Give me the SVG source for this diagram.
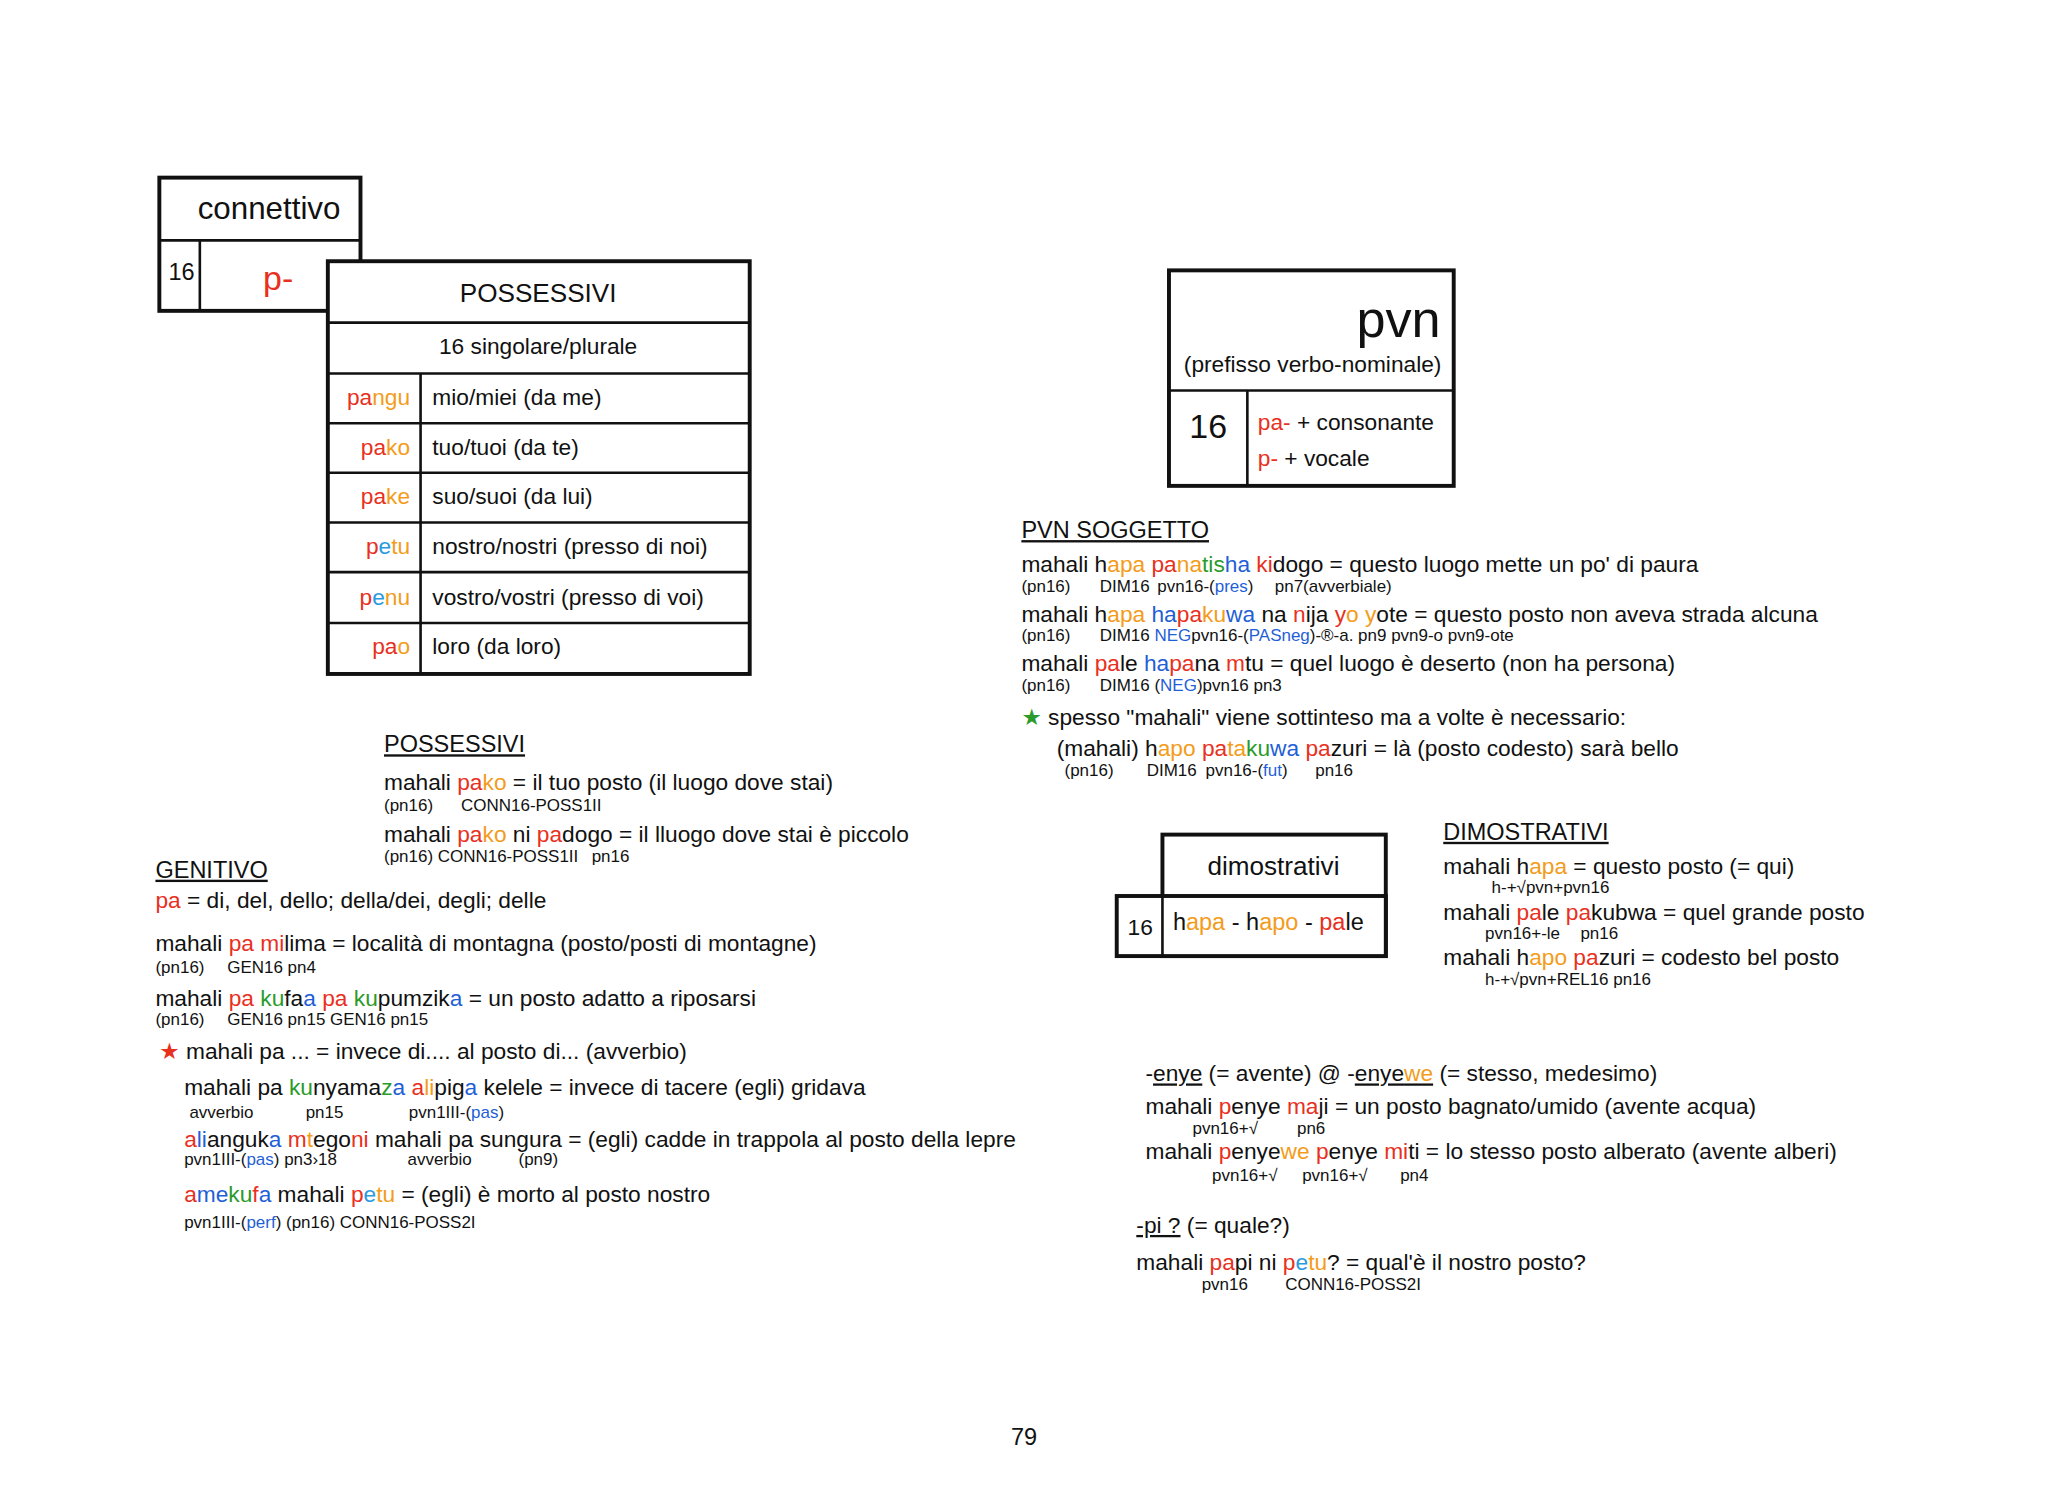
<svg xmlns="http://www.w3.org/2000/svg" width="2048" height="1496" viewBox="0 0 2048 1496">
<style>
text{font-family:"Liberation Sans","DejaVu Sans",sans-serif;fill:#111}
.m{font-size:17.4px}
.s{font-size:13px}
.h{font-size:18px;text-decoration:underline}
.r{fill:#e8301e}.o{fill:#f39c1b}.g{fill:#2a9a2a}.b{fill:#1f5fd6}.c{fill:#2a9adf}
.bx{fill:#fff;stroke:#111;stroke-width:3}
.ln{stroke:#111;stroke-width:2;fill:none}
</style>
<rect width="2048" height="1496" fill="#fff"/>
<g transform="scale(1.30612)">
<g id="connettivo">
<rect class="bx" x="122" y="136" width="154" height="102"/>
<line class="ln" x1="122" y1="184" x2="276" y2="184"/>
<line class="ln" x1="153" y1="184" x2="153" y2="238"/>
<text x="206" y="168" font-size="24" text-anchor="middle">connettivo</text>
<text x="139" y="214" font-size="18" text-anchor="middle">16</text>
<text x="213" y="222" font-size="26" text-anchor="middle" class="r">p-</text>
</g>
<g id="possessivi-table">
<rect class="bx" x="251" y="200" width="323" height="316"/>
<g class="ln">
<line x1="251" y1="247" x2="574" y2="247"/><line x1="251" y1="286" x2="574" y2="286"/>
<line x1="251" y1="324" x2="574" y2="324"/><line x1="251" y1="362" x2="574" y2="362"/>
<line x1="251" y1="400" x2="574" y2="400"/><line x1="251" y1="438" x2="574" y2="438"/>
<line x1="251" y1="477" x2="574" y2="477"/><line x1="322" y1="286" x2="322" y2="516"/>
</g>
<text x="412" y="231" font-size="20" text-anchor="middle">POSSESSIVI</text>
<text x="412" y="271" class="m" text-anchor="middle">16 singolare/plurale</text>
<g class="m" text-anchor="end">
<text x="314" y="310"><tspan class="r">pa</tspan><tspan class="o">ngu</tspan></text>
<text x="314" y="348"><tspan class="r">pa</tspan><tspan class="o">ko</tspan></text>
<text x="314" y="386"><tspan class="r">pa</tspan><tspan class="o">ke</tspan></text>
<text x="314" y="424"><tspan class="r">p</tspan><tspan class="c">e</tspan><tspan class="o">tu</tspan></text>
<text x="314" y="463"><tspan class="r">p</tspan><tspan class="c">e</tspan><tspan class="o">nu</tspan></text>
<text x="314" y="501"><tspan class="r">pa</tspan><tspan class="o">o</tspan></text>
</g>
<g class="m">
<text x="331" y="310">mio/miei (da me)</text>
<text x="331" y="348">tuo/tuoi (da te)</text>
<text x="331" y="386">suo/suoi (da lui)</text>
<text x="331" y="424">nostro/nostri (presso di noi)</text>
<text x="331" y="463">vostro/vostri (presso di voi)</text>
<text x="331" y="501">loro (da loro)</text>
</g>
</g>
<g id="pvn-box">
<rect class="bx" x="895" y="207" width="218" height="165"/>
<line class="ln" x1="895" y1="299" x2="1113" y2="299"/>
<line class="ln" x1="955" y1="299" x2="955" y2="372"/>
<text x="1103" y="258" font-size="40" text-anchor="end">pvn</text>
<text x="1005" y="285" class="m" text-anchor="middle">(prefisso verbo-nominale)</text>
<text x="925" y="335" font-size="26" text-anchor="middle">16</text>
<text x="963" y="329" class="m"><tspan class="r">pa-</tspan> + consonante</text>
<text x="963" y="357" class="m"><tspan class="r">p-</tspan> + vocale</text>
</g>
<g id="pvn-soggetto">
<text x="782" y="412" class="h">PVN SOGGETTO</text>
<text x="782" y="438" class="m">mahali h<tspan class="o">apa</tspan> <tspan class="r">pa</tspan><tspan class="o">na</tspan><tspan class="g">tis</tspan><tspan class="b">ha</tspan> <tspan class="r">ki</tspan>dogo = questo luogo mette un po' di paura</text>
<text class="s" y="453"><tspan x="782">(pn16)</tspan><tspan x="842">DIM16</tspan><tspan x="886">pvn16-(<tspan class="b">pres</tspan>)</tspan><tspan x="976">pn7(avverbiale)</tspan></text>
<text x="782" y="476" class="m">mahali h<tspan class="o">apa</tspan> <tspan class="b">ha</tspan><tspan class="r">pa</tspan><tspan class="o">ku</tspan><tspan class="b">wa</tspan> na <tspan class="r">n</tspan>ija <tspan class="r">y</tspan><tspan class="o">o</tspan> <tspan class="o">y</tspan>ote = questo posto non aveva strada alcuna</text>
<text class="s" y="491"><tspan x="782">(pn16)</tspan><tspan x="842">DIM16 <tspan class="b">NEG</tspan>pvn16-(<tspan class="b">PASneg</tspan>)-®-a. pn9 pvn9-o pvn9-ote</tspan></text>
<text x="782" y="514" class="m">mahali <tspan class="r">pa</tspan>le <tspan class="b">ha</tspan><tspan class="r">pa</tspan>na <tspan class="r">m</tspan>tu = quel luogo è deserto (non ha persona)</text>
<text class="s" y="529"><tspan x="782">(pn16)</tspan><tspan x="842">DIM16 (<tspan class="b">NEG</tspan>)pvn16  pn3</tspan></text>
<text x="782" y="555" class="m"><tspan class="g">★</tspan> spesso "mahali" viene sottinteso ma a volte è necessario:</text>
<text x="809" y="579" class="m">(mahali) h<tspan class="o">apo</tspan> <tspan class="r">pa</tspan><tspan class="o">ta</tspan><tspan class="g">ku</tspan><tspan class="b">wa</tspan> <tspan class="r">pa</tspan>zuri = là (posto codesto) sarà bello</text>
<text class="s" y="594"><tspan x="815">(pn16)</tspan><tspan x="878">DIM16</tspan><tspan x="923">pvn16-(<tspan class="b">fut</tspan>)</tspan><tspan x="1007">pn16</tspan></text>
</g>
<g id="dimostrativi-box">
<rect class="bx" x="890" y="639" width="171" height="93"/>
<rect class="bx" x="855" y="686" width="206" height="46"/>
<line class="ln" x1="890" y1="686" x2="890" y2="732"/>
<text x="975" y="670" font-size="20" text-anchor="middle">dimostrativi</text>
<text x="873" y="716" class="m" text-anchor="middle">16</text>
<text x="898" y="712" font-size="18">h<tspan class="o">apa</tspan> - h<tspan class="o">apo</tspan> - <tspan class="r">pa</tspan>le</text>
</g>
<g id="dimostrativi">
<text x="1105" y="643" class="h">DIMOSTRATIVI</text>
<text x="1105" y="669" class="m">mahali h<tspan class="o">apa</tspan> = questo posto (= qui)</text>
<text x="1142" y="684" class="s">h-+√pvn+pvn16</text>
<text x="1105" y="704" class="m">mahali <tspan class="r">pa</tspan>le <tspan class="r">pa</tspan>kubwa = quel grande posto</text>
<text class="s" y="719"><tspan x="1137">pvn16+-le</tspan><tspan x="1210">pn16</tspan></text>
<text x="1105" y="739" class="m">mahali h<tspan class="o">apo</tspan> <tspan class="r">pa</tspan>zuri = codesto bel posto</text>
<text x="1137" y="754" class="s">h-+√pvn+REL16  pn16</text>
</g>
<g id="possessivi-examples">
<text x="294" y="576" class="h">POSSESSIVI</text>
<text x="294" y="605" class="m">mahali <tspan class="r">pa</tspan><tspan class="o">ko</tspan> = il tuo posto (il luogo dove stai)</text>
<text class="s" y="621"><tspan x="294">(pn16)</tspan><tspan x="353">CONN16-POSS1II</tspan></text>
<text x="294" y="645" class="m">mahali <tspan class="r">pa</tspan><tspan class="o">ko</tspan> ni <tspan class="r">pa</tspan>dogo = il lluogo dove stai è piccolo</text>
<text class="s" y="660"><tspan x="294">(pn16) CONN16-POSS1II</tspan><tspan x="453">pn16</tspan></text>
</g>
<g id="genitivo">
<text x="119" y="672" class="h">GENITIVO</text>
<text x="119" y="695" class="m"><tspan class="r">pa</tspan> = di, del, dello; della/dei, degli; delle</text>
<text x="119" y="728" class="m">mahali <tspan class="r">pa</tspan> <tspan class="r">mi</tspan>lima = località di montagna (posto/posti di montagne)</text>
<text class="s" y="745"><tspan x="119">(pn16)</tspan><tspan x="174">GEN16 pn4</tspan></text>
<text x="119" y="770" class="m">mahali <tspan class="r">pa</tspan> <tspan class="g">ku</tspan>fa<tspan class="b">a</tspan> <tspan class="r">pa</tspan> <tspan class="g">ku</tspan>pumzik<tspan class="b">a</tspan> = un posto adatto a riposarsi</text>
<text class="s" y="785"><tspan x="119">(pn16)</tspan><tspan x="174">GEN16  pn15  GEN16 pn15</tspan></text>
<text x="122" y="811" class="m"><tspan class="r">★</tspan> mahali pa ... = invece di.... al posto di... (avverbio)</text>
<text x="141" y="838" class="m">mahali pa <tspan class="g">ku</tspan>nyama<tspan class="g">z</tspan><tspan class="b">a</tspan> <tspan class="r">a</tspan><tspan class="o">li</tspan>pig<tspan class="b">a</tspan> kelele = invece di tacere (egli) gridava</text>
<text class="s" y="856"><tspan x="145">avverbio</tspan><tspan x="234">pn15</tspan><tspan x="313">pvn1III-(<tspan class="b">pas</tspan>)</tspan></text>
<text x="141" y="878" class="m"><tspan class="r">a</tspan><tspan class="b">li</tspan>anguk<tspan class="b">a</tspan> <tspan class="r">m</tspan><tspan class="o">t</tspan>ego<tspan class="r">ni</tspan> mahali pa sungura = (egli) cadde in trappola al posto della lepre</text>
<text class="s" y="892"><tspan x="141">pvn1III-(<tspan class="b">pas</tspan>) pn3›18</tspan><tspan x="312">avverbio</tspan><tspan x="397">(pn9)</tspan></text>
<text x="141" y="920" class="m"><tspan class="r">a</tspan><tspan class="b">me</tspan><tspan class="g">ku</tspan><tspan class="r">f</tspan><tspan class="b">a</tspan> mahali <tspan class="r">p</tspan><tspan class="c">e</tspan><tspan class="o">tu</tspan> = (egli) è morto al posto nostro</text>
<text x="141" y="940" class="s">pvn1III-(<tspan class="b">perf</tspan>) (pn16) CONN16-POSS2I</text>
</g>
<g id="enye">
<text x="877" y="828" class="m">-<tspan text-decoration="underline">enye</tspan> (= avente) @ -<tspan text-decoration="underline">enye<tspan class="o">we</tspan></tspan> (= stesso, medesimo)</text>
<text x="877" y="853" class="m">mahali <tspan class="r">p</tspan>enye <tspan class="r">ma</tspan>ji = un posto bagnato/umido (avente acqua)</text>
<text class="s" y="868"><tspan x="913">pvn16+√</tspan><tspan x="993">pn6</tspan></text>
<text x="877" y="887" class="m">mahali <tspan class="r">p</tspan>enye<tspan class="o">we</tspan> <tspan class="r">p</tspan>enye <tspan class="r">mi</tspan>ti = lo stesso posto alberato (avente alberi)</text>
<text class="s" y="904"><tspan x="928">pvn16+√</tspan><tspan x="997">pvn16+√</tspan><tspan x="1072">pn4</tspan></text>
<text x="870" y="944" class="m"><tspan text-decoration="underline">-pi ?</tspan> (= quale?)</text>
<text x="870" y="972" class="m">mahali <tspan class="r">pa</tspan>pi ni <tspan class="r">p</tspan><tspan class="c">e</tspan><tspan class="o">tu</tspan>? = qual'è il nostro posto?</text>
<text class="s" y="988"><tspan x="920">pvn16</tspan><tspan x="984">CONN16-POSS2I</tspan></text>
</g>
<text x="784" y="1106" font-size="18" text-anchor="middle">79</text>
</g>
</svg>
